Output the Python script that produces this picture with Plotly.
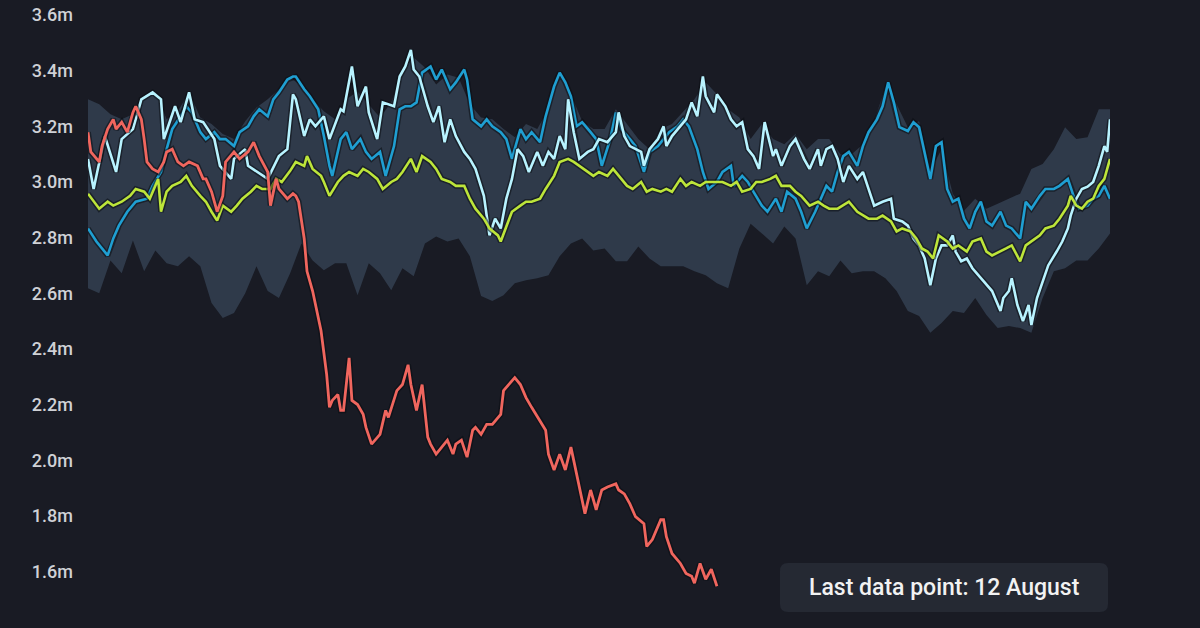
import pandas as pd
import plotly.graph_objects as go

# Values in millions. Days are counted from 1 January.
start = pd.Timestamp("2020-01-01")

# 5-year range band, read every 4 days
grid_days = list(range(0, 365, 4))

band_high = [3.297, 3.279, 3.243, 3.225, 3.243, 3.304, 3.325, 3.225, 3.254, 3.322,
             3.232, 3.208, 3.172, 3.154, 3.218, 3.268, 3.297, 3.333, 3.375, 3.347,
             3.297, 3.254, 3.225, 3.297, 3.325, 3.279, 3.232, 3.286, 3.404, 3.447,
             3.411, 3.350, 3.386, 3.375, 3.279, 3.232, 3.225, 3.190, 3.161, 3.208,
             3.190, 3.261, 3.397, 3.315, 3.218, 3.190, 3.190, 3.261, 3.208, 3.154,
             3.118, 3.190, 3.208, 3.254, 3.297, 3.358, 3.315, 3.261, 3.232, 3.154,
             3.208, 3.154, 3.136, 3.172, 3.118, 3.154, 3.154, 3.100, 3.100, 3.136,
             3.218, 3.340, 3.279, 3.197, 3.218, 3.040, 3.118, 2.958, 2.897, 2.940,
             2.904, 2.922, 2.940, 2.958, 3.047, 3.065, 3.118, 3.197, 3.154, 3.161,
             3.261, 3.261]

band_low = [2.618, 2.600, 2.718, 2.672, 2.790, 2.679, 2.754, 2.708, 2.697, 2.733,
            2.697, 2.565, 2.511, 2.529, 2.600, 2.697, 2.608, 2.583, 2.672, 2.779,
            2.718, 2.683, 2.708, 2.708, 2.593, 2.708, 2.672, 2.611, 2.690, 2.661,
            2.779, 2.804, 2.786, 2.797, 2.733, 2.590, 2.572, 2.593, 2.636, 2.647,
            2.654, 2.665, 2.733, 2.779, 2.797, 2.754, 2.761, 2.715, 2.715, 2.768,
            2.725, 2.697, 2.697, 2.697, 2.679, 2.665, 2.636, 2.618, 2.761, 2.850,
            2.815, 2.779, 2.840, 2.797, 2.629, 2.679, 2.661, 2.718, 2.672, 2.679,
            2.679, 2.654, 2.608, 2.536, 2.518, 2.458, 2.493, 2.536, 2.529, 2.583,
            2.522, 2.475, 2.482, 2.475, 2.458, 2.583, 2.679, 2.690, 2.718, 2.718,
            2.761, 2.815]

avg_days = [0, 2, 4, 7, 9, 12, 15, 17, 20, 22, 25, 26, 28, 30, 33, 35, 37, 40, 42, 44,
            46, 48, 51, 53, 55, 58, 60, 62, 65, 67, 69, 72, 74, 77, 78, 80, 83, 84, 86, 89,
            91, 93, 96, 98, 100, 103, 105, 108, 110, 112, 115, 117, 119, 122, 124, 126,
            129, 131, 134, 136, 138, 141, 143, 146, 147, 149, 151, 154, 156, 158, 161, 163,
            166, 168, 171, 173, 175, 178, 180, 182, 185, 187, 189, 192, 194, 197, 199, 201,
            204, 206, 208, 211, 213, 215, 218, 220, 222, 224, 226, 229, 231, 233, 236, 238,
            240, 243, 245, 247, 250, 252, 254, 257, 260, 262, 264, 267, 269, 271, 274, 276,
            278, 281, 283, 286, 288, 290, 293, 295, 297, 299, 301, 303, 306, 308, 310, 313,
            315, 318, 320, 322, 325, 327, 329, 332, 334, 336, 339, 341, 344, 346, 349, 350,
            352, 354, 356, 358, 360, 362, 364]
avg_values = [2.958, 2.929, 2.904, 2.929, 2.915, 2.929, 2.950, 2.975, 2.965, 2.940,
              3.011, 2.893, 2.965, 2.986, 3.000, 3.022, 2.986, 2.950, 2.929, 2.893,
              2.861, 2.915, 2.893, 2.915, 2.940, 2.965, 2.986, 2.975, 2.975, 3.011,
              3.000, 3.040, 3.072, 3.058, 3.093, 3.047, 3.022, 3.000, 2.950, 3.000,
              3.022, 3.036, 3.022, 3.047, 3.036, 3.011, 2.975, 3.000, 3.011, 3.036,
              3.083, 3.036, 3.093, 3.072, 3.047, 3.011, 3.000, 2.986, 2.986, 2.940,
              2.904, 2.868, 2.833, 2.808, 2.786, 2.840, 2.893, 2.915, 2.929, 2.929,
              2.940, 2.975, 3.022, 3.072, 3.083, 3.072, 3.058, 3.036, 3.022, 3.036,
              3.022, 3.047, 3.022, 2.986, 2.975, 3.000, 2.965, 2.975, 2.965, 2.975,
              2.965, 3.011, 2.986, 3.000, 2.986, 3.000, 3.000, 3.000, 3.000, 2.986,
              3.000, 2.965, 2.975, 3.000, 3.000, 3.011, 3.022, 2.986, 2.986, 2.965,
              2.950, 2.915, 2.929, 2.915, 2.904, 2.904, 2.915, 2.929, 2.893, 2.879,
              2.868, 2.868, 2.879, 2.858, 2.822, 2.833, 2.822, 2.797, 2.761, 2.750,
              2.725, 2.808, 2.786, 2.761, 2.772, 2.750, 2.786, 2.797, 2.750, 2.736,
              2.750, 2.761, 2.772, 2.715, 2.772, 2.786, 2.808, 2.833, 2.843, 2.868,
              2.915, 2.950, 2.915, 2.904, 2.929, 2.940, 2.986, 3.011, 3.083]

blue_days = [0, 3, 7, 9, 11, 14, 17, 21, 23, 26, 28, 30, 33, 35, 37, 40, 42, 45, 47, 49,
             52, 54, 57, 59, 61, 64, 66, 68, 71, 73, 74, 77, 79, 82, 84, 86, 87, 90, 92, 94,
             97, 99, 101, 104, 106, 109, 111, 113, 115, 117, 119, 122, 124, 126, 129, 131,
             134, 135, 137, 140, 142, 144, 147, 149, 151, 154, 156, 158, 161, 163, 166, 168,
             170, 172, 174, 176, 179, 181, 183, 186, 188, 190, 193, 195, 198, 200, 203, 205,
             207, 210, 212, 214, 217, 219, 221, 224, 226, 229, 230, 233, 235, 237, 240, 242,
             245, 247, 249, 252, 254, 256, 259, 261, 263, 265, 267, 269, 271, 274, 276, 278,
             281, 283, 285, 287, 289, 292, 294, 296, 298, 300, 302, 304, 306, 308, 310, 312,
             314, 316, 318, 320, 322, 325, 327, 329, 332, 334, 336, 339, 341, 344, 346, 349,
             351, 353, 356, 358, 360, 362, 364]
blue_values = [2.833, 2.786, 2.736, 2.797, 2.843, 2.893, 2.929, 2.940, 2.986, 3.036,
               3.118, 3.190, 3.236, 3.272, 3.250, 3.179, 3.154, 3.179, 3.154, 3.154,
               3.129, 3.179, 3.200, 3.236, 3.261, 3.236, 3.297, 3.322, 3.368, 3.379,
               3.379, 3.333, 3.308, 3.261, 3.165, 3.058, 3.022, 3.154, 3.179, 3.118,
               3.154, 3.108, 3.083, 3.108, 3.022, 3.129, 3.261, 3.272, 3.272, 3.286,
               3.393, 3.415, 3.368, 3.404, 3.333, 3.358, 3.404, 3.368, 3.225, 3.200,
               3.225, 3.200, 3.179, 3.154, 3.083, 3.190, 3.154, 3.179, 3.143, 3.236,
               3.343, 3.393, 3.358, 3.308, 3.200, 3.215, 3.179, 3.154, 3.058, 3.154,
               3.250, 3.190, 3.154, 3.129, 3.036, 3.108, 3.129, 3.154, 3.179, 3.200,
               3.225, 3.200, 3.118, 3.036, 2.975, 3.000, 3.036, 3.058, 2.986, 3.022,
               3.000, 2.965, 2.915, 2.893, 2.940, 2.893, 2.965, 2.940, 2.893, 2.833,
               2.893, 2.940, 2.986, 2.965, 3.036, 3.093, 3.108, 3.058, 3.129, 3.179,
               3.225, 3.272, 3.358, 3.286, 3.197, 3.183, 3.215, 3.197, 3.108, 3.011,
               3.129, 3.143, 2.975, 2.929, 2.940, 2.868, 2.833, 2.893, 2.929, 2.858,
               2.843, 2.893, 2.843, 2.833, 2.797, 2.929, 2.904, 2.950, 2.975, 2.975,
               2.986, 3.011, 2.950, 2.904, 2.915, 2.940, 2.950, 2.986, 2.940]

cyan_days = [0, 2, 6, 10, 12, 16, 19, 23, 26, 27, 31, 33, 36, 38, 41, 45, 47, 49, 51, 52,
             56, 57, 64, 68, 71, 73, 74, 77, 79, 81, 84, 86, 90, 91, 94, 96, 99, 100, 103,
             105, 109, 111, 113, 115, 116, 118, 121, 123, 125, 127, 129, 131, 134, 136,
             138, 141, 143, 145, 147, 149, 151, 153, 155, 157, 160, 162, 164, 166, 168,
             170, 171, 173, 175, 178, 180, 182, 185, 188, 189, 191, 193, 197, 198, 200,
             203, 205, 206, 208, 211, 213, 215, 217, 219, 220, 223, 224, 227, 229, 231,
             233, 235, 237, 239, 241, 244, 245, 247, 250, 252, 255, 257, 260, 261, 263,
             265, 267, 269, 271, 274, 276, 278, 280, 283, 286, 287, 290, 292, 294, 296,
             298, 300, 302, 304, 306, 308, 309, 311, 313, 315, 318, 320, 322, 325, 326,
             328, 329, 331, 333, 335, 336, 338, 340, 342, 345, 347, 349, 350, 352, 354,
             356, 358, 360, 362, 363, 364]
cyan_values = [3.083, 2.975, 3.165, 3.036, 3.154, 3.190, 3.297, 3.322, 3.297, 3.154,
               3.272, 3.215, 3.322, 3.225, 3.215, 3.154, 3.058, 3.036, 3.011, 3.083,
               3.118, 3.058, 3.011, 3.093, 3.118, 3.315, 3.297, 3.165, 3.225, 3.200,
               3.236, 3.154, 3.261, 3.254, 3.415, 3.272, 3.343, 3.250, 3.154, 3.286,
               3.272, 3.379, 3.415, 3.475, 3.404, 3.379, 3.272, 3.215, 3.272, 3.143,
               3.225, 3.165, 3.108, 3.083, 3.047, 2.950, 2.808, 2.868, 2.833, 2.940,
               3.011, 3.118, 3.093, 3.036, 3.108, 3.058, 3.108, 3.083, 3.165, 3.118,
               3.297, 3.179, 3.083, 3.108, 3.118, 3.154, 3.143, 3.179, 3.250, 3.165,
               3.129, 3.108, 3.058, 3.118, 3.154, 3.200, 3.129, 3.165, 3.200, 3.225,
               3.286, 3.236, 3.379, 3.308, 3.250, 3.315, 3.272, 3.225, 3.200, 3.215,
               3.118, 3.093, 3.047, 3.215, 3.093, 3.118, 3.058, 3.129, 3.154, 3.083,
               3.047, 3.118, 3.058, 3.118, 3.129, 3.083, 3.000, 3.058, 3.011, 3.036,
               2.975, 2.915, 2.929, 2.940, 2.868, 2.858, 2.843, 2.797, 2.772, 2.725,
               2.629, 2.725, 2.772, 2.772, 2.808, 2.750, 2.715, 2.725, 2.690, 2.654,
               2.629, 2.608, 2.536, 2.583, 2.608, 2.654, 2.558, 2.500, 2.558, 2.486,
               2.583, 2.643, 2.700, 2.750, 2.786, 2.833, 2.879, 2.940, 2.975, 2.983,
               3.000, 3.058, 3.129, 3.108, 3.225]

# current year, last data point 12 August
red_days = [0, 1, 4, 5, 7, 9, 10, 12, 14, 16, 17, 19, 20, 21, 23, 25, 27, 28, 30, 32,
            34, 36, 39, 41, 42, 44, 46, 48, 49, 52, 54, 57, 59, 61, 64, 65, 67, 68, 71, 73,
            74, 75, 77, 78, 80, 83, 85, 86, 87, 89, 90, 91, 93, 94, 96, 98, 99, 101, 104,
            106, 107, 110, 112, 114, 115, 117, 119, 121, 122, 124, 126, 128, 130, 131, 133,
            135, 137, 138, 140, 142, 144, 147, 148, 150, 152, 154, 156, 158, 161, 163, 164,
            166, 168, 170, 172, 173, 175, 177, 179, 181, 183, 185, 188, 189, 191, 193, 195,
            198, 199, 201, 204, 205, 206, 208, 211, 213, 215, 216, 218, 220, 222, 224]
red_values = [3.179, 3.108, 3.072, 3.129, 3.190, 3.225, 3.190, 3.215, 3.179, 3.250,
              3.272, 3.225, 3.154, 3.072, 3.047, 3.036, 3.072, 3.108, 3.118, 3.072,
              3.058, 3.072, 3.058, 3.011, 3.011, 2.965, 2.893, 2.950, 3.072, 3.108,
              3.083, 3.108, 3.143, 3.093, 3.036, 2.915, 3.011, 2.975, 2.940, 2.958,
              2.950, 2.929, 2.797, 2.679, 2.608, 2.465, 2.308, 2.190, 2.215, 2.236,
              2.179, 2.179, 2.368, 2.215, 2.200, 2.165, 2.118, 2.058, 2.093, 2.179,
              2.154, 2.250, 2.272, 2.343, 2.272, 2.179, 2.272, 2.083, 2.058, 2.022,
              2.047, 2.072, 2.022, 2.058, 2.072, 2.011, 2.108, 2.118, 2.093, 2.129,
              2.129, 2.165, 2.250, 2.272, 2.297, 2.272, 2.225, 2.190, 2.143, 2.108,
              2.022, 1.965, 2.022, 1.965, 2.047, 2.000, 1.904, 1.808, 1.893, 1.822,
              1.893, 1.904, 1.915, 1.893, 1.879, 1.843, 1.797, 1.772, 1.690, 1.715,
              1.786, 1.786, 1.725, 1.665, 1.629, 1.593, 1.583, 1.558, 1.629, 1.572,
              1.608, 1.547]

tick_vals = [1.4, 1.6, 1.8, 2.0, 2.2, 2.4, 2.6, 2.8, 3.0, 3.2, 3.4, 3.6]
tick_text = [f"{v:.1f}m" for v in tick_vals]

bg = "#191b24"


def to_dates(days):
    return start + pd.to_timedelta(days, unit="D")


fig = go.Figure()

# range band
grid = to_dates(grid_days)
fig.add_trace(go.Scatter(x=grid, y=band_low, mode="lines",
                         line=dict(width=0), hoverinfo="skip"))
fig.add_trace(go.Scatter(x=grid, y=band_high, mode="lines",
                         line=dict(width=0), fill="tonexty",
                         fillcolor="#2f3a4a", hoverinfo="skip"))

lines = [
    (blue_days, blue_values, "#1f9fd2", 2.6),
    (cyan_days, cyan_values, "#b8f3ff", 2.6),
    (avg_days, avg_values, "#bde53a", 2.6),
    (red_days, red_values, "#f0665e", 2.8),
]
for days, values, colour, width in lines:
    x = to_dates(days)
    # soft dark edge under each line
    fig.add_trace(go.Scatter(x=x, y=values, mode="lines",
                             line=dict(color="rgba(10,12,18,0.55)", width=width + 3),
                             hoverinfo="skip"))
    fig.add_trace(go.Scatter(x=x, y=values, mode="lines",
                             line=dict(color=colour, width=width)))

# rounded box for the note
x0, x1 = (780 - 88) / 1022, (1108 - 88) / 1022
y0, y1 = 1 - 612 / 628, 1 - 563 / 628
rx, ry = 8 / 1022, 8 / 628
box = (f"M {x0 + rx},{y0} L {x1 - rx},{y0} Q {x1},{y0} {x1},{y0 + ry} "
       f"L {x1},{y1 - ry} Q {x1},{y1} {x1 - rx},{y1} L {x0 + rx},{y1} "
       f"Q {x0},{y1} {x0},{y1 - ry} L {x0},{y0 + ry} Q {x0},{y0} {x0 + rx},{y0} Z")
fig.add_shape(type="path", path=box, xref="paper", yref="paper",
              fillcolor="#252933", line=dict(width=0), layer="above")
fig.add_annotation(x=(x0 + x1) / 2, y=(y0 + y1) / 2, xref="paper", yref="paper",
                   xanchor="center", yanchor="middle",
                   text="Last data point: 12 August", showarrow=False,
                   font=dict(family="Roboto", size=23, weight=500, color="#f2f2f2"))

fig.update_layout(
    width=1200, height=628,
    margin=dict(l=88, r=90, t=0, b=0),
    paper_bgcolor=bg, plot_bgcolor=bg,
    showlegend=False,
    font=dict(family="Roboto", color="#d2d4da"),
    xaxis=dict(visible=False, range=[start, to_dates(364)]),
    yaxis=dict(range=[1.397, 3.654], tickvals=tick_vals, ticktext=tick_text,
               showgrid=False, zeroline=False, showline=False, ticks="",
               ticklabelstandoff=14,
               tickfont=dict(size=18, weight=500, color="#cfd1d6")),
)

fig.write_html("out.html", config={"displayModeBar": False},
               post_script="document.body.style.margin='0';"
                           "document.body.style.background='#191b24';")
